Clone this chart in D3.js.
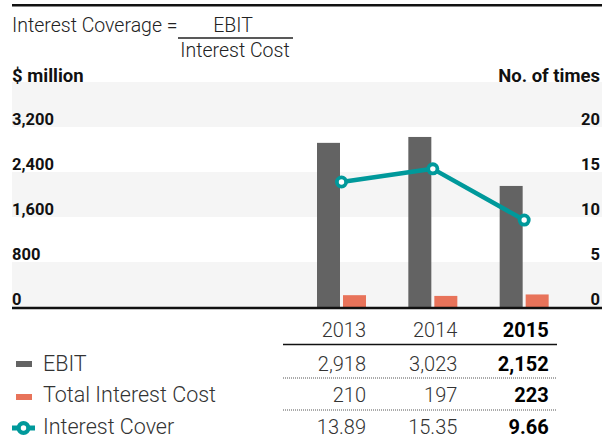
<!DOCTYPE html>
<html>
<head>
<meta charset="utf-8">
<script src="https://cdn.jsdelivr.net/npm/d3@7"></script>
<style>
  html, body { margin: 0; padding: 0; background: #fff; }
  svg { display: block; font-family: Roboto, "Noto Sans", sans-serif; }
</style>
</head>
<body>
<svg id="chart" width="602" height="441"></svg>
<script>
// Interest coverage, 2013–2015
const years = ["2013", "2014", "2015"];
const ebit = [2918, 3023, 2152];
const interestCost = [210, 197, 223];
const interestCover = [13.89, 15.35, 9.66];
const leftTicks = [0, 800, 1600, 2400, 3200];
const rightTicks = [0, 5, 10, 15, 20];
const ebitLabels = ["2,918", "3,023", "2,152"];
const costLabels = ["210", "197", "223"];
const coverLabels = ["13.89", "15.35", "9.66"];

const colors = { ebit: "#636363", cost: "#e8735a", cover: "#00999b", band: "#f5f5f5" };

const svg = d3.select("#chart");
const left = 12, right = 602;

const yLeft = d3.scaleLinear().domain([0, 4000]).range([307, 82]);
const yRight = d3.scaleLinear().domain([0, 25]).range([307, 82]);
const x = d3.scaleBand().domain(years).range([284, 558]).paddingInner(0);

// alternating background bands
const bandEdges = d3.range(0, 4001, 800);
svg.append("g").selectAll("rect")
  .data(bandEdges.slice(0, -1))
  .join("rect")
  .attr("x", left)
  .attr("width", right - left)
  .attr("y", d => yLeft(d + 800))
  .attr("height", d => yLeft(d) - yLeft(d + 800))
  .attr("fill", (d, i) => i % 2 === 0 ? colors.band : "#fff");

// top rule
svg.append("line").attr("x1", left).attr("x2", right).attr("y1", 5.3).attr("y2", 5.3)
  .attr("stroke", "#111").attr("stroke-width", 2.6);

// formula
const formula = svg.append("g").attr("fill", "#222").attr("font-weight", 300).attr("font-size", 19.5);
formula.append("text").attr("x", 12).attr("y", 32).text("Interest Coverage =");
formula.append("text").attr("x", 233).attr("y", 32).attr("text-anchor", "middle").text("EBIT");
formula.append("line").attr("x1", 178).attr("x2", 293).attr("y1", 38).attr("y2", 38)
  .attr("stroke", "#222").attr("stroke-width", 1.3);
formula.append("text").attr("x", 235).attr("y", 57).attr("text-anchor", "middle").text("Interest Cost");

// axis titles
svg.append("text").attr("x", 12).attr("y", 82).attr("font-weight", 700).attr("font-size", 18.5)
  .attr("fill", "#111").text("$ million");
svg.append("text").attr("x", 600).attr("y", 82).attr("font-weight", 700).attr("font-size", 18.5)
  .attr("text-anchor", "end").attr("fill", "#111").text("No. of times");

// left axis labels
svg.append("g").selectAll("text").data(leftTicks).join("text")
  .attr("x", 12).attr("y", d => yLeft(d) - 2)
  .attr("font-weight", 700).attr("font-size", 16.5).attr("fill", "#111")
  .text(d => d3.format(",")(d));

// right axis labels
svg.append("g").selectAll("text").data(rightTicks).join("text")
  .attr("x", 600).attr("y", d => yRight(d) - 2).attr("text-anchor", "end")
  .attr("font-weight", 700).attr("font-size", 16.5).attr("fill", "#111")
  .text(d => d);

// bars
const barW = 23;
svg.append("g").selectAll("rect").data(years).join("rect")
  .attr("x", d => x(d) + 33).attr("width", barW)
  .attr("y", (d, i) => yLeft(ebit[i]))
  .attr("height", (d, i) => yLeft(0) - yLeft(ebit[i]))
  .attr("fill", colors.ebit);
svg.append("g").selectAll("rect").data(years).join("rect")
  .attr("x", d => x(d) + 59).attr("width", barW)
  .attr("y", (d, i) => yLeft(interestCost[i]))
  .attr("height", (d, i) => yLeft(0) - yLeft(interestCost[i]))
  .attr("fill", colors.cost);

// baseline
svg.append("line").attr("x1", left).attr("x2", right).attr("y1", 308).attr("y2", 308)
  .attr("stroke", "#111").attr("stroke-width", 2.6);

// interest cover line
const px = d => x(d) + 57.5;
const line = d3.line().x((d, i) => px(years[i])).y(d => yRight(d));
svg.append("path").datum(interestCover).attr("d", line)
  .attr("fill", "none").attr("stroke", colors.cover).attr("stroke-width", 4.5)
  .attr("stroke-linejoin", "round");
svg.append("g").selectAll("circle").data(interestCover).join("circle")
  .attr("cx", (d, i) => px(years[i])).attr("cy", d => yRight(d)).attr("r", 4.6)
  .attr("fill", "#fff").attr("stroke", colors.cover).attr("stroke-width", 3.8);

// table
const colRight = d => x(d) + 82;
const rows = [
  { labels: years, y: 337 },
  { labels: ebitLabels, y: 371 },
  { labels: costLabels, y: 402 },
  { labels: coverLabels, y: 434 }
];
const table = svg.append("g").attr("font-size", 20).attr("fill", "#222");
rows.forEach(r => {
  table.append("g").selectAll("text").data(years).join("text")
    .attr("x", d => colRight(d)).attr("y", r.y).attr("text-anchor", "end")
    .attr("font-weight", (d, i) => i === years.length - 1 ? 700 : 300)
    .attr("fill", (d, i) => i === years.length - 1 ? "#000" : "#333")
    .text((d, i) => r.labels[i]);
});
const tableLeft = x.range()[0] - 1, tableRight = x.range()[1] - 1;
svg.append("line").attr("x1", tableLeft).attr("x2", tableRight).attr("y1", 344.5).attr("y2", 344.5)
  .attr("stroke", "#111").attr("stroke-width", 1.4);
[378, 410].forEach(yy => {
  svg.append("line").attr("x1", tableLeft).attr("x2", tableRight).attr("y1", yy).attr("y2", yy)
    .attr("stroke", "#555").attr("stroke-width", 1).attr("stroke-dasharray", "1,1");
});

// legend
const legend = svg.append("g").attr("font-size", 21.5).attr("font-weight", 300).attr("fill", "#333");
legend.append("rect").attr("x", 16).attr("y", 361).attr("width", 16).attr("height", 6).attr("fill", colors.ebit);
legend.append("text").attr("x", 43).attr("y", 371).text("EBIT");
legend.append("rect").attr("x", 16).attr("y", 394).attr("width", 16).attr("height", 6).attr("fill", colors.cost);
legend.append("text").attr("x", 43).attr("y", 402).text("Total Interest Cost");
legend.append("line").attr("x1", 12).attr("x2", 35).attr("y1", 428).attr("y2", 428)
  .attr("stroke", colors.cover).attr("stroke-width", 5);
legend.append("circle").attr("cx", 23.5).attr("cy", 428).attr("r", 4.8)
  .attr("fill", "#fff").attr("stroke", colors.cover).attr("stroke-width", 4.2);
legend.append("text").attr("x", 43).attr("y", 434).text("Interest Cover");
</script>
</body>
</html>
